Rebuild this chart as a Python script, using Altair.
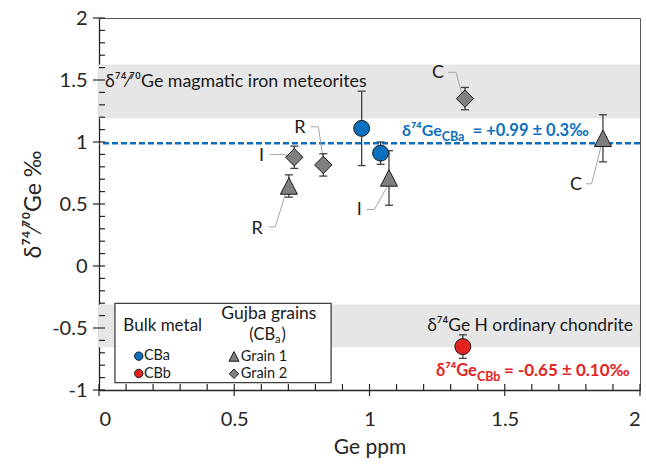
import altair as alt
import pandas as pd

FONT = "Lato, 'DejaVu Sans', sans-serif"
BLUE = "#0B6FBF"
RED = "#E3231F"
GRAY = "#7F7F7F"
DARK = "#262626"

# ---- data series ----
cba_x = [0.971, 1.041]
cba_y = [1.11, 0.91]
cba_err = [0.30, 0.09]

cbb_x = [1.345]
cbb_y = [-0.65]
cbb_err = [0.095]

g1_x = [0.702, 1.072, 1.863]
g1_y = [0.645, 0.71, 1.03]
g1_err = [0.09, 0.22, 0.19]

g2_x = [0.722, 0.829, 1.353]
g2_y = [0.877, 0.815, 1.35]
g2_err = [0.09, 0.09, 0.09]

cba_mean = 0.99
iron_band = [1.19, 1.625]
ochond_band = [-0.655, -0.31]

# ---- axis ticks ----
x_major = [0, 0.5, 1, 1.5, 2]
x_minor = [0.1, 0.2, 0.3, 0.4, 0.6, 0.7, 0.8, 0.9, 1.1, 1.2, 1.3, 1.4, 1.6, 1.7, 1.8, 1.9]
y_major = [-1, -0.5, 0, 0.5, 1, 1.5, 2]
y_minor = [-0.9, -0.8, -0.7, -0.6, -0.4, -0.3, -0.2, -0.1, 0.1, 0.2, 0.3, 0.4,
           0.6, 0.7, 0.8, 0.9, 1.1, 1.2, 1.3, 1.4, 1.6, 1.7, 1.8, 1.9]

# ---- point labels and leader lines ----
label_text = ["C", "R", "I", "R", "I", "C"]
label_x = [1.253, 0.743, 0.601, 0.585, 0.962, 1.763]
label_y = [1.553, 1.109, 0.885, 0.302, 0.45, 0.657]
leader_x = [[1.290, 1.320, 1.342], [0.783, 0.811, 0.828], [0.632, 0.688, 0.706],
            [0.628, 0.651, 0.695], [0.990, 1.018, 1.064], [1.799, 1.821, 1.855]]
leader_y = [[1.562, 1.562, 1.383], [1.123, 1.123, 0.875], [0.899, 0.899, 0.875],
            [0.316, 0.316, 0.617], [0.456, 0.456, 0.633], [0.663, 0.663, 0.956]]

xs = alt.Scale(domain=[0, 2], nice=False, zero=False)
ys = alt.Scale(domain=[-1, 2], nice=False, zero=False)
xaxis = alt.Axis(values=x_major, ticks=False, grid=False, labelFontSize=20, labelPadding=19,
                 labelExpr="datum.value + ''", labelColor=DARK, labelFont=FONT,
                 domainColor=DARK, domainWidth=1.3, titleFont=FONT, titleFontSize=21,
                 titleFontWeight="normal", titleColor=DARK, titlePadding=7)
yaxis = alt.Axis(values=y_major, ticks=False, grid=False, labelFontSize=20, labelPadding=12,
                 labelExpr="datum.value + ''", labelColor=DARK, labelFont=FONT,
                 domainColor=DARK, domainWidth=1.3, titleFont=FONT, titleFontSize=23,
                 titleFontWeight="normal", titleColor=DARK, titlePadding=6)
XT = "Ge ppm"
YT = "δ⁷⁴⁄⁷⁰Ge ‰"


def X(f):
    return alt.X(f"{f}:Q", scale=xs, axis=xaxis, title=XT)


def Y(f):
    return alt.Y(f"{f}:Q", scale=ys, axis=yaxis, title=YT)


layers = []

# bands
band_df = pd.DataFrame({"x": [0, 0], "x2": [2, 2],
                        "y": [iron_band[0], ochond_band[0]],
                        "y2": [iron_band[1], ochond_band[1]]})
layers.append(alt.Chart(band_df).mark_rect(color="#E6E6E6").encode(
    x=X("x"), x2="x2", y=Y("y"), y2="y2"))

# mean line
mean_df = pd.DataFrame({"y": [cba_mean]})
layers.append(alt.Chart(mean_df).mark_rule(color=BLUE, strokeWidth=2.4, strokeDash=[6, 3]).encode(
    y=Y("y")))

# leader lines
rows = []
for i, (lx, ly) in enumerate(zip(leader_x, leader_y)):
    for j, (a, b) in enumerate(zip(lx, ly)):
        rows.append({"id": i, "o": j, "x": a, "y": b})
lead_df = pd.DataFrame(rows)
layers.append(alt.Chart(lead_df).mark_line(color="#A6A6A6", strokeWidth=1).encode(
    x=X("x"), y=Y("y"), detail="id:N", order="o:Q"))

# error bars
ex = cba_x + cbb_x + g1_x + g2_x
ey = cba_y + cbb_y + g1_y + g2_y
ee = cba_err + cbb_err + g1_err + g2_err
err_df = pd.DataFrame({"x": ex, "lo": [a - b for a, b in zip(ey, ee)],
                       "hi": [a + b for a, b in zip(ey, ee)]})
layers.append(alt.Chart(err_df).mark_rule(color="#404040", strokeWidth=1.3).encode(
    x=X("x"), y=Y("lo"), y2="hi"))
for end in ["lo", "hi"]:
    layers.append(alt.Chart(err_df).mark_rule(color="#404040", strokeWidth=1.3,
                                              xOffset=-4, x2Offset=4).encode(
        x=X("x"), x2="x", y=Y(end)))

TRI = "M0,-0.97L1,0.97L-1,0.97Z"

# markers
def pts(xv, yv, shape, fill, size):
    d = pd.DataFrame({"x": xv, "y": yv})
    return alt.Chart(d).mark_point(shape=shape, filled=True, fill=fill, stroke="#1A1A1A",
                                   strokeWidth=1, size=size, opacity=1).encode(x=X("x"), y=Y("y"))


layers.append(pts(g1_x, g1_y, TRI, GRAY, 289))
layers.append(pts(g2_x, g2_y, "diamond", GRAY, 300))
layers.append(pts(cba_x, cba_y, "circle", BLUE, 254))
layers.append(pts(cbb_x, cbb_y, "circle", RED, 254))

# point labels
lab_df = pd.DataFrame({"x": label_x, "y": label_y, "t": label_text})
layers.append(alt.Chart(lab_df).mark_text(font=FONT, fontSize=18, color="#1A1A1A",
                                          align="center", baseline="middle").encode(
    x=X("x"), y=Y("y"), text="t:N"))


def txt(x, y, t, **kw):
    d = pd.DataFrame({"x": [x], "y": [y], "t": [t]})
    base = dict(font=FONT, baseline="alphabetic")
    base.update(kw)
    return alt.Chart(d).mark_text(**base).encode(x=X("x"), y=Y("y"), text="t:N")


# band annotations
layers.append(txt(0.022, 1.44, "δ⁷⁴⁄⁷⁰Ge magmatic iron meteorites", fontSize=17.8,
                  color="#1A1A1A", align="left"))
layers.append(txt(1.974, -0.526, "δ⁷⁴Ge H ordinary chondrite", fontSize=17.4,
                  color="#1A1A1A", align="right"))

# blue mean annotation
layers.append(txt(1.267, 1.047, "δ⁷⁴Ge", fontSize=16, fontWeight="bold", color=BLUE, align="right"))
layers.append(txt(1.267, 1.047, "CBa", fontSize=12.5, fontWeight="bold", color=BLUE, align="left", dy=5))
layers.append(txt(1.267, 1.047, "= +0.99 ± 0.3‰", fontSize=16.5, fontWeight="bold", color=BLUE,
                  align="left", dx=31))
# red annotation
layers.append(txt(1.397, -0.889, "δ⁷⁴Ge", fontSize=16.5, fontWeight="bold", color=RED, align="right"))
layers.append(txt(1.397, -0.889, "CBb", fontSize=12.5, fontWeight="bold", color=RED, align="left", dy=5))
layers.append(txt(1.397, -0.889, "= -0.65 ± 0.10‰", fontSize=17, fontWeight="bold", color=RED,
                  align="left", dx=27))

# ticks
def tick_df(vals, fixed):
    return pd.DataFrame({"v": vals, "f": [fixed] * len(vals)})


layers.append(alt.Chart(tick_df(y_major, 0)).mark_rule(color=DARK, strokeWidth=1.2,
                                                       xOffset=-6, x2Offset=6).encode(
    x=X("f"), x2="f", y=Y("v")))
layers.append(alt.Chart(tick_df(y_minor, 0)).mark_rule(color=DARK, strokeWidth=1.2,
                                                       xOffset=0, x2Offset=6).encode(
    x=X("f"), x2="f", y=Y("v")))
layers.append(alt.Chart(tick_df(x_major, -1)).mark_rule(color=DARK, strokeWidth=1.2,
                                                        yOffset=-6, y2Offset=6).encode(
    y=Y("f"), y2="f", x=X("v")))
layers.append(alt.Chart(tick_df(x_minor, -1)).mark_rule(color=DARK, strokeWidth=1.2,
                                                        yOffset=0, y2Offset=-6).encode(
    y=Y("f"), y2="f", x=X("v")))

# legend box
box_df = pd.DataFrame({"x": [0.059], "x2": [0.858], "y": [-0.94], "y2": [-0.302]})
layers.append(alt.Chart(box_df).mark_rect(fill="white", stroke="#404040", strokeWidth=1.3).encode(
    x=X("x"), x2="x2", y=Y("y"), y2="y2"))

layers.append(txt(0.090, -0.526, "Bulk metal", fontSize=17, color="#1A1A1A", align="left"))
layers.append(txt(0.628, -0.385, "Gujba grains", fontSize=17.5, color="#1A1A1A", align="center",
                  baseline="middle"))
layers.append(txt(0.651, -0.600, "(CB", fontSize=16.5, color="#1A1A1A", align="right"))
layers.append(txt(0.651, -0.600, "a", fontSize=11, color="#1A1A1A", align="left", dy=3))
layers.append(txt(0.651, -0.600, ")", fontSize=16.5, color="#1A1A1A", align="left", dx=6.5))

leg_circ_x = [0.147]
layers.append(pts(leg_circ_x, [-0.727], "circle", BLUE, 70))
layers.append(pts(leg_circ_x, [-0.867], "circle", RED, 70))
layers.append(pts([0.499], [-0.729], TRI, GRAY, 100))
layers.append(pts([0.499], [-0.869], "diamond", GRAY, 90))
layers.append(txt(0.166, -0.729, "CBa", fontSize=14.5, color="#1A1A1A", align="left", baseline="middle"))
layers.append(txt(0.166, -0.869, "CBb", fontSize=14.5, color="#1A1A1A", align="left", baseline="middle"))
layers.append(txt(0.524, -0.731, "Grain 1", fontSize=14.5, color="#1A1A1A", align="left", baseline="middle"))
layers.append(txt(0.524, -0.871, "Grain 2", fontSize=14.5, color="#1A1A1A", align="left", baseline="middle"))

chart = alt.layer(*layers).properties(
    width=541, height=372,
    autosize=alt.AutoSizeParams(type="none"),
    padding={"left": 99, "right": 6, "top": 18, "bottom": 75},
    background="white",
).configure_view(stroke="#595959", strokeWidth=1)

chart.save("out.html", embed_options={"renderer": "svg", "actions": False})
